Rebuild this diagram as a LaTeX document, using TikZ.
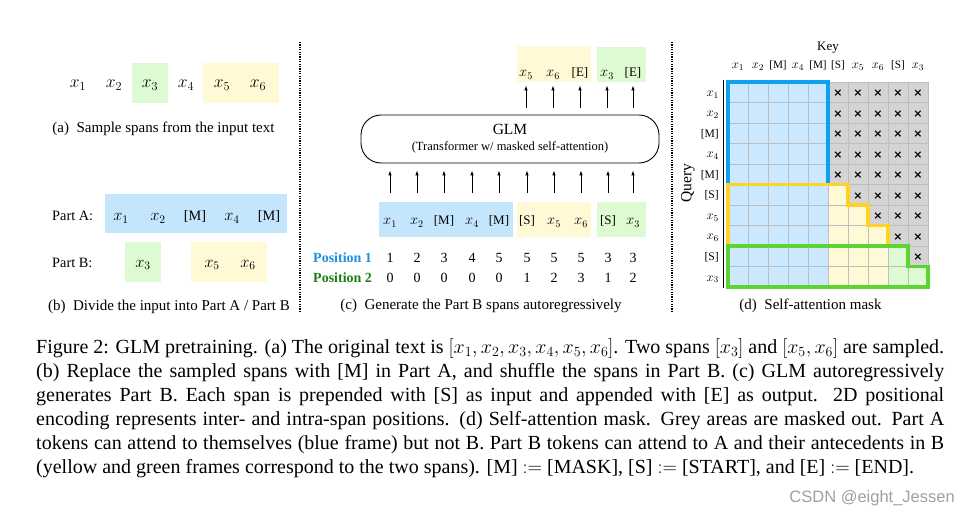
\RequirePackage{fix-cm}
\documentclass[tikz,border=0pt]{standalone}
\usepackage[no-math]{fontspec}
\setmainfont{Liberation Serif}
\newfontfamily\wmfont{Liberation Sans}
\newfontfamily\symfont{DejaVu Sans}
\usetikzlibrary{arrows.meta}
\definecolor{blueF}{RGB}{196,230,253}
\definecolor{blueM}{RGB}{204,232,255}
\definecolor{yelF}{RGB}{255,249,214}
\definecolor{grnF}{RGB}{222,250,210}
\definecolor{greyF}{RGB}{212,212,212}
\definecolor{gridC}{RGB}{190,190,190}
\definecolor{blueL}{RGB}{16,160,240}
\definecolor{yelL}{RGB}{255,210,40}
\definecolor{grnL}{RGB}{92,212,52}
\definecolor{pos1}{RGB}{28,145,220}
\definecolor{pos2}{RGB}{30,128,20}
\definecolor{wmC}{RGB}{160,160,160}
\newcommand{\szm}[2]{{\fontsize{#1}{#1}\selectfont$#2$}}
\tikzset{
  tokA/.style={inner sep=0pt, anchor=base, font=\fontsize{17.5}{20}\selectfont},
  tokB/.style={inner sep=0pt, anchor=base, font=\fontsize{16.5}{20}\selectfont},
  tokBt/.style={inner sep=0pt, anchor=base, font=\fontsize{14.3}{17}\selectfont},
  tokC/.style={inner sep=0pt, anchor=base, font=\fontsize{13}{16}\selectfont},
  tokD/.style={inner sep=0pt, anchor=base, font=\fontsize{11.2}{14}\selectfont},
  rowD/.style={inner sep=0pt, anchor=base east, font=\fontsize{11.6}{14}\selectfont},
  subcap/.style={inner sep=0pt, anchor=base, font=\fontsize{15}{18}\selectfont},
  spanbox/.style={inner sep=0pt, anchor=north west, draw=none},
  arr/.style={line width=0.9pt, -{Latex[length=5pt,width=3.6pt]}},
  sep/.style={line width=1.2pt, dash pattern=on 1.2pt off 1.2pt},
  gridline/.style={draw=gridC, line width=0.9pt},
  xmark/.style={inner sep=0pt, font=\symfont\bfseries\fontsize{11}{12}\selectfont},
  frame/.style={line width=3.5pt, line join=miter},
  posnum/.style={inner sep=0pt, anchor=base, font=\fontsize{14}{17}\selectfont},
}
\begin{document}
\begin{tikzpicture}[x=1pt,y=-1pt]
\useasboundingbox (0,0) rectangle (970,516);
\fill[white] (0,0) rectangle (970,516);

% separators
\draw[sep] (300,42) -- (300,313);
\draw[sep] (672,42) -- (672,313);

%% ---------- panel (a)
\node[spanbox, fill=grnF, minimum width=36pt, minimum height=40pt] (aG) at (132,63) {};
\node[spanbox, fill=yelF, minimum width=76pt, minimum height=40pt] (aY) at (203,63) {};
\node[tokA] (a1) at (78,88) {$x_1$};
\node[tokA] (a2) at (114,88) {$x_2$};
\node[tokA] (a3) at (150,88) {$x_3$};
\node[tokA] (a4) at (186,88) {$x_4$};
\node[tokA] (a5) at (222,88) {$x_5$};
\node[tokA] (a6) at (258,88) {$x_6$};
\node[subcap] (capa) at (163.5,133) {(a)\hspace{0.5em}Sample spans from the input text};

%% ---------- panel (b)
\node[spanbox, fill=blueF, minimum width=182pt, minimum height=39pt] (bA) at (105,194) {};
\node[spanbox, fill=grnF, minimum width=36pt, minimum height=40pt] (bG) at (125,242) {};
\node[spanbox, fill=yelF, minimum width=76pt, minimum height=40pt] (bY) at (191,242) {};
\node[tokBt, anchor=base west] (pA) at (52,221) {Part A:};
\node[tokBt, anchor=base west] (pB) at (52,267) {Part B:};
\node[tokB] (b1) at (121,221) {$x_1$};
\node[tokB] (b2) at (158,221) {$x_2$};
\node[tokBt] (b3) at (195,221) {[M]};
\node[tokB] (b4) at (232,221) {$x_4$};
\node[tokBt] (b5) at (269,221) {[M]};
\node[tokB] (b6) at (143,267) {$x_3$};
\node[tokB] (b7) at (212,267) {$x_5$};
\node[tokB] (b8) at (248,267) {$x_6$};
\node[subcap] (capb) at (169,310) {(b)\hspace{0.5em}Divide the input into Part A / Part B};

%% ---------- panel (c)
\node[draw, line width=0.9pt, rounded corners=20pt, minimum width=298pt, minimum height=48pt, inner sep=0pt] (glm) at (510,139) {};
\node[inner sep=0pt, anchor=base, font=\fontsize{15.5}{18}\selectfont] (glmT) at (510,135) {GLM};
\node[inner sep=0pt, anchor=base, font=\fontsize{12.5}{15}\selectfont] (glmS) at (510,151) {(Transformer w/ masked self-attention)};

\node[spanbox, fill=yelF, minimum width=74pt, minimum height=36pt] (oY) at (517,46) {};
\node[spanbox, fill=grnF, minimum width=49pt, minimum height=35pt] (oG) at (597,47) {};
\node[tokC] (o1) at (526,77) {\szm{14.5}{x_5}};
\node[tokC] (o2) at (553,77) {\szm{14.5}{x_6}};
\node[tokC] (o3) at (580,77) {[E]};
\node[tokC] (o4) at (607,77) {\szm{14.5}{x_3}};
\node[tokC] (o5) at (633,77) {[E]};

\node[spanbox, fill=blueF, minimum width=134pt, minimum height=35pt] (iB) at (379,202) {};
\node[spanbox, fill=yelF, minimum width=74pt, minimum height=35pt] (iY) at (517,202) {};
\node[spanbox, fill=grnF, minimum width=49pt, minimum height=35pt] (iG) at (597,202) {};
\foreach \i/\x/\t in {1/390/{\szm{14.5}{x_1}}, 2/417/{\szm{14.5}{x_2}}, 3/444/{[M]}, 4/472/{\szm{14.5}{x_4}}, 5/499/{[M]}, 6/527/{[S]}, 7/554/{\szm{14.5}{x_5}}, 8/581/{\szm{14.5}{x_6}}, 9/608/{[S]}, 10/633/{\szm{14.5}{x_3}}}{
  \node[tokC] (c\i) at (\x,225) {\t};
}
% arrows bottom
\foreach \i in {1,...,10}{
  \draw[arr] ([yshift=9pt]iB.north -| c\i) -- ([yshift=-7pt]glm.south -| c\i);
}
% arrows top
\foreach \i in {1,...,5}{
  \draw[arr] ([yshift=7pt]glm.north -| o\i) -- ([yshift=-3pt]oY.south -| o\i);
}
\node[inner sep=0pt, anchor=base west, font=\bfseries\fontsize{14}{17}\selectfont, text=pos1] (P1) at (313,262) {Position 1};
\node[inner sep=0pt, anchor=base west, font=\bfseries\fontsize{14}{17}\selectfont, text=pos2] (P2) at (313,282) {Position 2};
\foreach \i/\x/\p/\q in {1/390/1/0, 2/417/2/0, 3/444/3/0, 4/472/4/0, 5/499/5/0, 6/527/5/1, 7/554/5/2, 8/581/5/3, 9/608/3/1, 10/633/3/2}{
  \node[posnum] (pa\i) at (\x,262) {\p};
  \node[posnum] (pb\i) at (\x,282) {\q};
}
\node[subcap] (capc) at (481,309) {(c)\hspace{0.5em}Generate the Part B spans autoregressively};

%% ---------- panel (d)
\fill[blueM] (728,82) rectangle (828,287);
\fill[greyF] (828,82) rectangle (928,287);
\fill[yelF] (828,184.5) rectangle (848,287);
\fill[yelF] (848,205) rectangle (868,287);
\fill[yelF] (868,225.5) rectangle (888,287);
\fill[grnF] (888,246) rectangle (908,287);
\fill[grnF] (908,266.5) rectangle (928,287);
\foreach \c in {0,...,10} \draw[gridline] ({728+20*\c},82) -- ({728+20*\c},287);
\foreach \r in {0,...,10} \draw[gridline] (728,{82+20.5*\r}) -- (928,{82+20.5*\r});
\foreach \r/\s in {0/5,1/5,2/5,3/5,4/5,5/6,6/7,7/8,8/9}{
  \foreach \c in {\s,...,9}{
    \node[xmark] (m\r-\c) at ({738+20*\c},{93.5+20.5*\r}) {×};
  }
}
\draw[frame, draw=blueL] (728,82) rectangle (828,184.5);
\draw[frame, draw=yelL] (728,184.5) -- (848,184.5) -- (848,205) -- (868,205) -- (868,225.5) -- (888,225.5) -- (888,246) -- (728,246) -- cycle;
\draw[frame, draw=grnL] (728,246) -- (908,246) -- (908,266.5) -- (928,266.5) -- (928,287) -- (728,287) -- cycle;
\draw[line width=1pt] (723,80) -- (723,288);

\node[inner sep=0pt, anchor=base, font=\fontsize{13}{15}\selectfont] (key) at (828,51) {Key};
\foreach \c/\t in {0/{\szm{12.7}{x_1}}, 1/{\szm{12.7}{x_2}}, 2/{[M]}, 3/{\szm{12.7}{x_4}}, 4/{[M]}, 5/{[S]}, 6/{\szm{12.7}{x_5}}, 7/{\szm{12.7}{x_6}}, 8/{[S]}, 9/{\szm{12.7}{x_3}}}{
  \node[tokD] (k\c) at ({738+20*\c},69) {\t};
  \node[rowD] (q\c) at (719,{96.5+20.5*\c}) {\t};
}
\node[inner sep=0pt, rotate=90, font=\fontsize{15.5}{17}\selectfont] (query) at (688,183) {Query};
\node[subcap] (capd) at (810.5,309) {(d)\hspace{0.5em}Self-attention mask};

%% ---------- caption
\node[anchor=base west, text width=908pt, align=justify, inner sep=0pt, font=\fontsize{20}{24}\selectfont] (cap) at (36,353) {Figure 2: GLM pretraining. (a) The original text is $[x_1,x_2,x_3,x_4,x_5,x_6]$. Two spans $[x_3]$ and $[x_5,x_6]$ are sampled.\linebreak
(b) Replace the sampled spans with [M] in Part A, and shuffle the spans in Part B. (c) GLM autoregressively\linebreak
generates Part B. Each span is prepended with [S] as input and appended with [E] as output. 2D positional\linebreak
encoding represents inter- and intra-span positions. (d) Self-attention mask. Grey areas are masked out. Part A\linebreak
tokens can attend to themselves (blue frame) but not B. Part B tokens can attend to A and their antecedents in B\linebreak
(yellow and green frames correspond to the two spans). [M] $:=$ [MASK], [S] $:=$ [START], and [E] $:=$ [END].};

\node[inner sep=0pt, anchor=base east, font=\wmfont\fontsize{16.5}{18}\selectfont, text=wmC] (wm) at (955,502) {CSDN @eight\_Jessen};
\end{tikzpicture}
\end{document}
